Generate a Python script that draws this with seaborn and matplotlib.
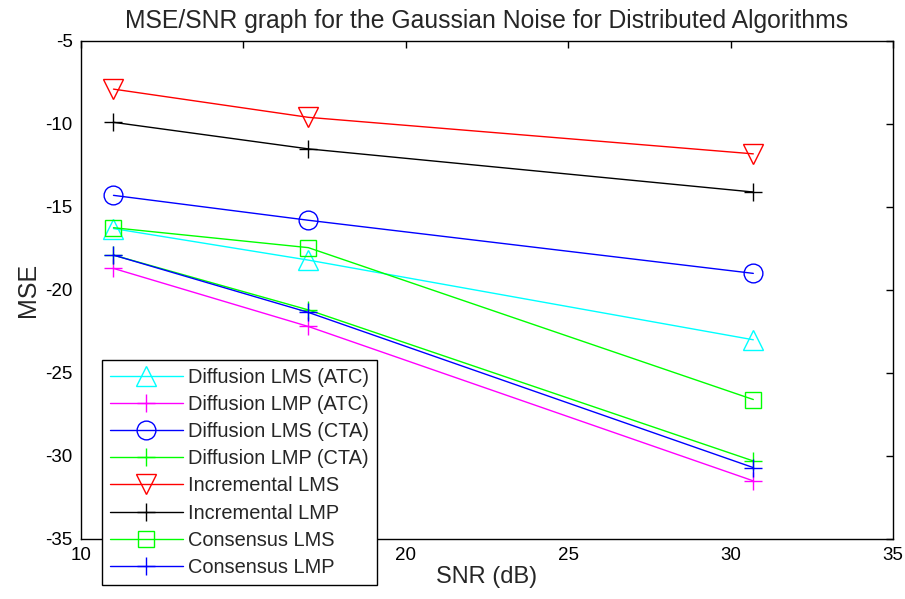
import matplotlib
matplotlib.use("Agg")
import matplotlib.pyplot as plt
import seaborn as sns
import numpy as np

# ---- data ----
snr = [11.0, 17.0, 30.7]
diff_lms_atc = [-16.3, -18.2, -23.0]
diff_lmp_atc = [-18.7, -22.2, -31.5]
diff_lms_cta = [-14.3, -15.8, -19.0]
diff_lmp_cta = [-17.9, -21.2, -30.3]
inc_lms = [-7.9, -9.6, -11.8]
inc_lmp = [-9.9, -11.5, -14.1]
cons_lms = [-16.25, -17.45, -26.6]
cons_lmp = [-17.9, -21.35, -30.7]

labels = ["Diffusion LMS (ATC)", "Diffusion LMP (ATC)", "Diffusion LMS (CTA)",
          "Diffusion LMP (CTA)", "Incremental LMS", "Incremental LMP",
          "Consensus LMS", "Consensus LMP"]
series = [diff_lms_atc, diff_lmp_atc, diff_lms_cta, diff_lmp_cta,
          inc_lms, inc_lmp, cons_lms, cons_lmp]
colors = ["#00FFFF", "#FF00FF", "#0000FF", "#00FF00",
          "#FF0000", "#000000", "#00FF00", "#0000FF"]
markers = ["^", "+", "o", "+", "v", "+", "s", "+"]
msizes = [15, 13, 13.5, 13, 15, 13, 11.5, 13]

xticks = [10, 15, 20, 25, 30, 35]
xticklabels = ["10", "", "20", "25", "30", "35"]  # "15" is hidden by the legend
yticks = [-35, -30, -25, -20, -15, -10, -5]

sns.set_theme(style="white")
plt.rcParams["font.family"] = ["Liberation Sans", "DejaVu Sans"]
plt.rcParams["axes.unicode_minus"] = False
plt.rcParams["xtick.direction"] = "in"
plt.rcParams["ytick.direction"] = "in"

fig = plt.figure(figsize=(9.05, 5.99), dpi=100)
ax = fig.add_axes([0.0895, 0.1002, 0.8972, 0.8314])

for y, lab, c, m, ms in zip(series, labels, colors, markers, msizes):
    sns.lineplot(x=snr, y=y, ax=ax, color=c, marker=m, markersize=ms,
                 markerfacecolor="none", markeredgecolor=c, markeredgewidth=1.0,
                 linewidth=1.0, label=lab, legend=False)

ax.set_xlim(10, 35)
ax.set_ylim(-35, -5)
ax.set_xticks(xticks)
ax.set_xticklabels(xticklabels)
ax.set_yticks(yticks)
ax.tick_params(axis="both", which="both", direction="in", length=5, width=1,
               top=True, right=True, labelsize=13.5, colors="black", pad=6)
for sp in ax.spines.values():
    sp.set_visible(True)
    sp.set_color("black")
    sp.set_linewidth(1.0)

ax.set_title("MSE/SNR graph for the Gaussian Noise for Distributed Algorithms",
             fontsize=17.8, pad=9)
ax.set_xlabel("SNR (dB)", fontsize=17, labelpad=1)
ax.set_ylabel("MSE", fontsize=18, labelpad=4)

leg = ax.legend(loc="lower left", bbox_to_anchor=(0.1127, 0.0234),
                bbox_transform=fig.transFigure, fontsize=14.4, frameon=True,
                fancybox=False, framealpha=1, edgecolor="black",
                borderpad=0.4, labelspacing=0.41, handlelength=3.65,
                handletextpad=0.25, borderaxespad=0)
leg.get_frame().set_linewidth(1.0)
leg.set_zorder(10)

fig.savefig("out.png", dpi=100)
